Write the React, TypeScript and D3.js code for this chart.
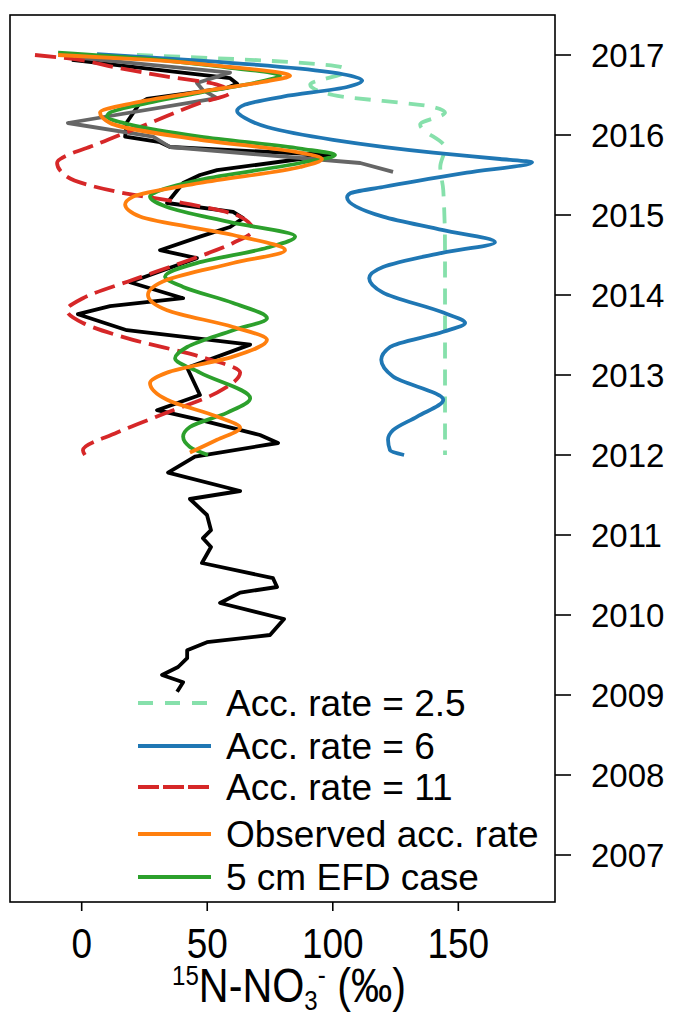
import React from "react";
import * as d3 from "d3";

// ---- data: [δ15N value (‰), year] ----
const accRate25: [number, number][] = [
  [22.0, 2017.0], [67.1, 2016.94], [104.1, 2016.84], [104.9, 2016.79], [91.0, 2016.63],
  [100.1, 2016.5], [140.0, 2016.35], [144.7, 2016.28], [134.8, 2016.13], [144.7, 2015.84],
  [142.8, 2015.6], [144.0, 2015.31], [144.7, 2014.56], [144.7, 2012.0],
];
const accRate6: [number, number][] = [
  [6.1, 2017.01], [47.1, 2016.93], [87.0, 2016.83], [105.7, 2016.75], [111.7, 2016.68],
  [105.7, 2016.6], [80.2, 2016.48], [65.1, 2016.38], [61.9, 2016.3], [65.1, 2016.21],
  [73.8, 2016.1], [100.1, 2015.94], [140.0, 2015.78], [166.6, 2015.7], [179.4, 2015.66],
  [153.4, 2015.53], [120.0, 2015.35], [106.9, 2015.27], [105.7, 2015.22], [120.0, 2014.98],
  [144.0, 2014.81], [164.6, 2014.66], [144.0, 2014.53], [120.0, 2014.35], [114.5, 2014.21],
  [120.0, 2014.03], [144.0, 2013.78], [152.7, 2013.65], [144.0, 2013.54], [122.8, 2013.35],
  [119.3, 2013.19], [124.0, 2012.98], [144.0, 2012.69], [133.6, 2012.48], [124.0, 2012.31],
  [122.0, 2012.19], [122.8, 2012.06], [128.4, 2012.0],
];
const accRate11: [number, number][] = [
  [-18.6, 2017.0], [-5.9, 2016.96], [14.1, 2016.84], [34.0, 2016.73], [53.9, 2016.63],
  [59.1, 2016.53], [47.1, 2016.4], [27.2, 2016.15], [7.3, 2015.9], [-9.8, 2015.65],
  [-5.9, 2015.48], [14.1, 2015.29], [40.4, 2015.15], [63.1, 2014.98], [68.2, 2014.81],
  [60.3, 2014.65], [40.4, 2014.41], [20.4, 2014.19], [0.5, 2013.96], [-5.9, 2013.81],
  [0.5, 2013.65], [20.4, 2013.44], [47.1, 2013.23], [63.1, 2013.03], [53.9, 2012.78],
  [34.0, 2012.53], [14.1, 2012.28], [0.5, 2012.06], [1.3, 2012.0],
];
const observedAcc: [number, number][] = [
  [-9.4, 2017.0], [27.2, 2016.94], [59.1, 2016.85], [77.0, 2016.79], [83.0, 2016.74],
  [75.0, 2016.68], [47.1, 2016.54], [20.5, 2016.4], [7.3, 2016.28], [11.3, 2016.15],
  [47.1, 2015.94], [87.0, 2015.78], [95.7, 2015.7], [87.0, 2015.6], [47.1, 2015.4],
  [20.5, 2015.23], [17.3, 2015.13], [23.2, 2014.98], [60.3, 2014.75], [81.0, 2014.56],
  [60.3, 2014.4], [34.0, 2014.19], [26.4, 2014.0], [34.0, 2013.81], [60.3, 2013.6],
  [73.8, 2013.44], [60.3, 2013.23], [34.0, 2013.03], [27.2, 2012.9], [34.0, 2012.69],
  [53.9, 2012.48], [63.1, 2012.34], [53.9, 2012.19], [43.1, 2012.03],
];
const efd5cm: [number, number][] = [
  [-9.4, 2017.03], [27.2, 2016.95], [59.1, 2016.84], [75.0, 2016.78], [79.0, 2016.74],
  [73.0, 2016.68], [47.1, 2016.53], [23.2, 2016.38], [11.3, 2016.28], [10.1, 2016.23],
  [19.2, 2016.13], [47.1, 2015.98], [87.0, 2015.83], [100.9, 2015.75], [87.0, 2015.65],
  [47.1, 2015.44], [29.2, 2015.28], [27.2, 2015.23], [34.0, 2015.1], [59.1, 2014.91],
  [85.0, 2014.73], [73.8, 2014.59], [47.1, 2014.41], [33.2, 2014.23], [40.4, 2014.1],
  [60.3, 2013.9], [73.8, 2013.71], [60.3, 2013.56], [42.0, 2013.35], [37.2, 2013.21],
  [47.1, 2013.03], [67.1, 2012.71], [58.0, 2012.53], [43.1, 2012.35], [40.4, 2012.23],
  [43.1, 2012.1], [50.3, 2012.0],
];
const observedProfile: [number, number][] = [
  [-3.9, 2016.94], [59.1, 2016.71], [61.9, 2016.64], [57.9, 2016.59], [26.0, 2016.45],
  [23.2, 2016.4], [18.0, 2016.16], [17.3, 2015.98], [31.2, 2015.91], [35.2, 2015.85],
  [98.9, 2015.75], [53.9, 2015.56], [47.1, 2015.5], [40.4, 2015.4], [34.0, 2015.15],
  [60.3, 2015.04], [64.3, 2014.96], [59.1, 2014.85], [47.1, 2014.73], [31.2, 2014.56],
  [45.9, 2014.46], [35.2, 2014.34], [19.2, 2014.16], [40.4, 2013.96], [11.3, 2013.86],
  [-1.5, 2013.76], [18.0, 2013.56], [67.1, 2013.38], [42.0, 2013.09], [47.1, 2012.75],
  [30.0, 2012.56], [47.1, 2012.44], [71.0, 2012.25], [78.2, 2012.15], [45.1, 2011.98],
  [34.4, 2011.78], [63.1, 2011.55], [43.1, 2011.45], [49.9, 2011.25], [51.5, 2011.06],
  [48.3, 2010.96], [51.5, 2010.85], [47.9, 2010.65], [76.2, 2010.46], [77.8, 2010.35],
  [63.1, 2010.28], [55.1, 2010.15], [80.6, 2009.95], [75.0, 2009.75], [49.9, 2009.66],
  [42.0, 2009.56], [42.0, 2009.46], [38.4, 2009.35], [32.0, 2009.25], [40.4, 2009.16],
  [38.0, 2009.04],
];
const secondProfile: [number, number][] = [
  [-2.7, 2016.97], [59.1, 2016.78], [45.9, 2016.65], [48.3, 2016.56], [53.9, 2016.46],
  [-5.5, 2016.15], [28.4, 2015.98], [35.2, 2015.85], [110.9, 2015.65], [124.0, 2015.54],
];

const xTicks = [0, 50, 100, 150];
const yTicks = [2007, 2008, 2009, 2010, 2011, 2012, 2013, 2014, 2015, 2016, 2017];
const legendLabels = ["Acc. rate = 2.5", "Acc. rate = 6", "Acc. rate = 11", "Observed acc. rate", "5 cm EFD case"];

export default function App() {
  const W = 680, H = 1017;
  const L = 10, R = 555, T = 15, B = 902;
  const x = d3.scaleLinear().domain([-28.55, 188.5]).range([L, R]);
  const y = d3.scaleLinear().domain([2006.4125, 2017.5]).range([B, T]);

  const smooth = d3.line<[number, number]>().x(d => x(d[0])).y(d => y(d[1])).curve(d3.curveMonotoneY);
  const straight = d3.line<[number, number]>().x(d => x(d[0])).y(d => y(d[1]));

  const font = "'Liberation Sans', Arial, Helvetica, sans-serif";
  const lw = 3.8;

  const series = [
    { d: straight(observedProfile), stroke: "#000000", dash: undefined },
    { d: straight(secondProfile), stroke: "#666666", dash: undefined },
    { d: smooth(accRate25), stroke: "#86e0ab", dash: "16,11" },
    { d: smooth(accRate6), stroke: "#1f77b4", dash: undefined },
    { d: smooth(accRate11), stroke: "#d62728", dash: "21,8" },
    { d: smooth(efd5cm), stroke: "#2ca02c", dash: undefined },
    { d: smooth(observedAcc), stroke: "#ff7f0e", dash: undefined },
  ];

  const legendStyles = [
    { stroke: "#86e0ab", dash: "15,12" },
    { stroke: "#1f77b4", dash: undefined },
    { stroke: "#d62728", dash: "21,4" },
    { stroke: "#ff7f0e", dash: undefined },
    { stroke: "#2ca02c", dash: undefined },
  ];
  const legendY = [703, 746, 787, 834, 877];

  return (
    <svg width={W} height={H} style={{ position: "absolute", left: 0, top: 0 }} fontFamily={font}>
      <rect x={0} y={0} width={W} height={H} fill="#ffffff" />
      <text x={4} y={-8} fontSize={36} fill="#000">(a)</text>
      <defs>
        <clipPath id="plotclip">
          <rect x={L} y={T} width={R - L} height={B - T} />
        </clipPath>
      </defs>
      <g clipPath="url(#plotclip)">
        {series.map((s, i) => (
          <path key={i} d={s.d || ""} fill="none" stroke={s.stroke} strokeWidth={lw}
            strokeDasharray={s.dash} strokeLinejoin="round" strokeLinecap="butt" />
        ))}
      </g>
      {/* legend */}
      {legendLabels.map((lab, i) => (
        <g key={lab}>
          <line x1={138} x2={211} y1={legendY[i]} y2={legendY[i]} stroke={legendStyles[i].stroke}
            strokeWidth={lw} strokeDasharray={legendStyles[i].dash} />
          <text x={226} y={legendY[i] + 13} fontSize={37} fill="#000">{lab}</text>
        </g>
      ))}
      {/* frame */}
      <rect x={L} y={T} width={R - L} height={B - T} fill="none" stroke="#000" strokeWidth={1.6} />
      {/* x axis ticks */}
      {xTicks.map(t => (
        <g key={t}>
          <line x1={x(t)} x2={x(t)} y1={B} y2={B + 9} stroke="#000" strokeWidth={1.6} />
          <text transform={`translate(${x(t)},958) scale(0.86,1)`} textAnchor="middle" fontSize={43} fill="#000">{t}</text>
        </g>
      ))}
      {/* y axis ticks on right */}
      {yTicks.map(t => (
        <g key={t}>
          <line x1={R} x2={R + 16} y1={y(t)} y2={y(t)} stroke="#000" strokeWidth={1.6} />
          <text x={591} y={y(t) + 12} fontSize={33} fill="#000">{t}</text>
        </g>
      ))}
      {/* x axis label */}
      <g transform="translate(289,1002) scale(0.86,1)">
        <text textAnchor="middle" fontSize={48} fill="#000">
          <tspan fontSize={28} dy={-17}>15</tspan>
          <tspan dy={17}>N-NO</tspan>
          <tspan fontSize={28} dy={8}>3</tspan>
          <tspan fontSize={28} dy={-26}>-</tspan>
          <tspan dy={18}> (‰)</tspan>
        </text>
      </g>
    </svg>
  );
}
